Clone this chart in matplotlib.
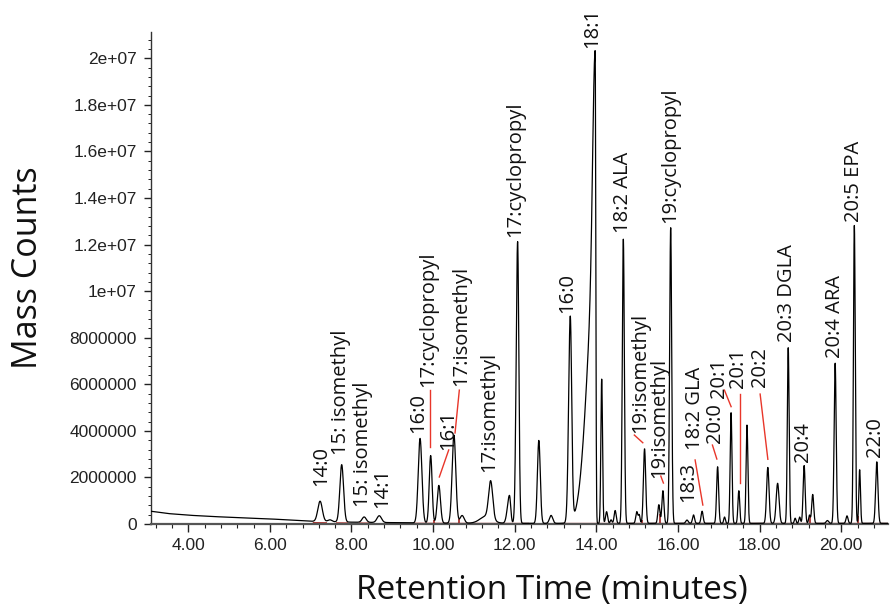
import numpy as np
import matplotlib
matplotlib.use("Agg")
import matplotlib.pyplot as plt
from matplotlib.ticker import MultipleLocator, FixedLocator, FixedFormatter

# ---------------- data ----------------
# baseline drift (time, counts)
base_t = [3.08, 3.5, 4.0, 4.5, 5.0, 5.5, 6.0, 6.5, 7.0, 8.0, 9.0, 10.0, 12.0, 21.15]
base_v = [0.55e6, 0.45e6, 0.38e6, 0.33e6, 0.29e6, 0.25e6, 0.22e6, 0.17e6, 0.12e6,
          0.08e6, 0.06e6, 0.04e6, 0.03e6, 0.03e6]

# peaks: retention time, height above baseline, left / right width (min)
peak_t = [7.23, 7.47, 7.76, 8.31, 8.68, 9.68, 9.94, 10.14, 10.51, 10.71, 11.30, 11.41,
          11.87, 12.07, 12.59, 12.89, 13.36, 13.97, 13.97, 14.13, 14.25, 14.36, 14.46,
          14.66, 14.99, 15.05, 15.18, 15.53, 15.63, 15.82, 16.22, 16.38, 16.59, 16.97,
          17.14, 17.30, 17.49, 17.69, 18.20, 18.44, 18.70, 18.87, 18.98, 19.09, 19.22,
          19.30, 19.66, 19.85, 20.14, 20.32, 20.45, 20.87]
peak_h = [0.87e6, 0.08e6, 2.46e6, 0.23e6, 0.29e6, 3.63e6, 2.90e6, 1.62e6, 3.78e6, 0.33e6,
          0.30e6, 1.60e6, 1.20e6, 12.1e6, 3.56e6, 0.34e6, 8.80e6, 10.5e6, 9.8e6, 6.20e6,
          0.50e6, 0.15e6, 0.55e6, 12.2e6, 0.50e6, 0.35e6, 3.20e6, 0.80e6, 1.40e6, 12.7e6,
          0.14e6, 0.36e6, 0.52e6, 2.43e6, 0.27e6, 4.75e6, 1.40e6, 4.22e6, 2.40e6, 1.72e6,
          7.55e6, 0.22e6, 0.27e6, 2.48e6, 0.35e6, 1.24e6, 0.12e6, 6.88e6, 0.32e6, 12.8e6,
          2.30e6, 2.64e6]
peak_sl = [0.055, 0.05, 0.045, 0.05, 0.055, 0.045, 0.035, 0.04, 0.045, 0.05, 0.15, 0.05,
           0.05, 0.035, 0.035, 0.04, 0.04, 0.20, 0.06, 0.02, 0.025, 0.02, 0.025, 0.025,
           0.025, 0.02, 0.028, 0.025, 0.025, 0.025, 0.03, 0.025, 0.025, 0.025, 0.02, 0.022,
           0.022, 0.022, 0.03, 0.035, 0.022, 0.02, 0.02, 0.025, 0.02, 0.025, 0.03, 0.025,
           0.025, 0.022, 0.02, 0.028]
peak_sr = [0.055, 0.05, 0.045, 0.05, 0.055, 0.045, 0.035, 0.04, 0.045, 0.05, 0.15, 0.05,
           0.03, 0.03, 0.035, 0.04, 0.035, 0.015, 0.015, 0.02, 0.025, 0.02, 0.025, 0.025,
           0.025, 0.02, 0.028, 0.025, 0.025, 0.025, 0.03, 0.025, 0.025, 0.025, 0.02, 0.022,
           0.022, 0.022, 0.03, 0.035, 0.022, 0.02, 0.02, 0.025, 0.02, 0.025, 0.03, 0.025,
           0.025, 0.022, 0.02, 0.028]

# peak labels: text, x (min), y of label foot (counts)
label_text = ["14:0", "15: isomethyl", "15: isomethyl", "14:1", "16:0", "17:cyclopropyl",
              "16:1", "17:isomethyl", "17:isomethyl", "17:cyclopropyl", "16:0", "18:1",
              "18:2 ALA", "19:cyclopropyl", "19:isomethyl", "19:isomethyl", "18:3",
              "18:2 GLA", "20:0", "20:1", "20:1", "20:2", "20:3 DGLA", "20:4",
              "20:4 ARA", "20:5 EPA", "22:0"]
label_x = [7.260, 7.750, 8.270, 8.760, 9.640, 9.880, 10.380, 10.684, 11.385, 12.007,
           13.275, 13.887, 14.662, 15.806, 15.071, 15.537, 16.248, 16.419, 16.909, 17.007,
           17.461, 18.012, 18.674, 19.066, 19.850, 20.300, 20.831]
label_y = [1.62e6, 2.96e6, 0.74e6, 0.67e6, 3.89e6, 5.89e6, 3.18e6, 5.93e6, 2.25e6, 12.32e6,
           9.06e6, 20.43e6, 12.49e6, 12.92e6, 3.91e6, 1.97e6, 0.94e6, 3.18e6, 3.48e6, 5.41e6,
           5.84e6, 5.88e6, 7.81e6, 2.66e6, 7.12e6, 12.96e6, 2.88e6]

# red leader lines (x0, y0, x1, y1)
leader_x0 = [9.924, 10.382, 10.642, 14.930, 15.578, 16.419, 16.843, 17.137, 17.522, 18.012]
leader_y0 = [5.75e6, 3.18e6, 5.75e6, 3.82e6, 2.06e6, 2.75e6, 3.39e6, 5.75e6, 5.58e6, 5.58e6]
leader_x1 = [9.924, 10.152, 10.537, 15.137, 15.642, 16.608, 16.951, 17.301, 17.522, 18.201]
leader_y1 = [3.30e6, 2.02e6, 3.91e6, 3.49e6, 1.76e6, 0.815e6, 2.79e6, 5.04e6, 1.75e6, 2.78e6]

# integration baseline segments and drop lines
intbase_start = [7.05, 7.62, 8.18, 9.50, 12.45, 13.15]
intbase_end = [7.40, 7.92, 8.45, 12.35, 12.75, 21.15]
drop_t = [10.03, 10.64, 14.05, 14.32, 14.54, 15.11, 15.56, 15.71, 19.24, 20.41]

# axis ticks
xtick_vals = [4, 6, 8, 10, 12, 14, 16, 18, 20]
xtick_labels = ["4.00", "6.00", "8.00", "10.00", "12.00", "14.00", "16.00", "18.00", "20.00"]
ytick_vals = [0, 2e6, 4e6, 6e6, 8e6, 1e7, 1.2e7, 1.4e7, 1.6e7, 1.8e7, 2e7]
ytick_labels = ["0", "2000000", "4000000", "6000000", "8000000", "1e+07", "1.2e+07",
                "1.4e+07", "1.6e+07", "1.8e+07", "2e+07"]

# ---------------- build trace ----------------
t = np.linspace(3.08, 21.15, 8000)
trace = np.interp(t, base_t, base_v)
for pt, ph, sl, sr in zip(peak_t, peak_h, peak_sl, peak_sr):
    s = np.where(t < pt, sl, sr)
    trace = trace + ph * np.exp(-0.5 * ((t - pt) / s) ** 2)

# ---------------- figure ----------------
fig = plt.figure(figsize=(8.9, 6.07), dpi=100)
ax = fig.add_axes([0.1693, 0.1367, 0.8287, 0.8103])

red_dark = "#a8302c"
red_light = "#e8362a"

for a, b in zip(intbase_start, intbase_end):
    seg = (t >= a) & (t <= b)
    ax.plot(t[seg], np.interp(t[seg], base_t, base_v) * 0.4, color=red_dark, lw=1.3,
            solid_capstyle="butt", zorder=2)

for dt in drop_t:
    ax.vlines(dt, 0.02e6, np.interp(dt, t, trace), color=red_dark, lw=1.3, zorder=2)

ax.plot(t, trace, color="black", lw=0.9, zorder=3)

for x0, y0, x1, y1 in zip(leader_x0, leader_y0, leader_x1, leader_y1):
    ax.plot([x0, x1], [y0, y1], color=red_light, lw=1.0, zorder=4)

for txt, lx, ly in zip(label_text, label_x, label_y):
    ax.text(lx, ly, txt, rotation=90, ha="center", va="bottom",
            fontsize=14.5, family="Open Sans", color="#111111", zorder=5)

ax.set_xlim(3.08, 21.15)
ax.set_ylim(0, 2.112e7)

for sp in ["top", "right"]:
    ax.spines[sp].set_visible(False)
ax.spines["left"].set_color("#333333")
ax.spines["bottom"].set_color("#555555")
ax.spines["left"].set_linewidth(1.0)
ax.spines["bottom"].set_linewidth(1.6)

ax.xaxis.set_major_locator(FixedLocator(xtick_vals))
ax.xaxis.set_major_formatter(FixedFormatter(xtick_labels))
ax.xaxis.set_minor_locator(MultipleLocator(0.4))
ax.yaxis.set_major_locator(FixedLocator(ytick_vals))
ax.yaxis.set_major_formatter(FixedFormatter(ytick_labels))
ax.yaxis.set_minor_locator(MultipleLocator(4e5))

ax.tick_params(axis="x", which="major", length=6, width=1.0, pad=4, colors="#222222")
ax.tick_params(axis="x", which="minor", length=3, width=0.8, colors="#222222")
ax.tick_params(axis="y", which="major", length=5, width=1.0, pad=5, colors="#222222")
ax.tick_params(axis="y", which="minor", length=2.5, width=0.7, colors="#222222")
for lab in ax.get_xticklabels() + ax.get_yticklabels():
    lab.set_family("Liberation Sans")
    lab.set_fontsize(12.5)
    lab.set_color("#222222")

ax.set_xlabel("Retention Time (minutes)", family="Open Sans", fontsize=24,
              color="#111111", va="baseline")
ax.xaxis.set_label_coords(0.544, -0.1515)
ax.set_ylabel("Mass Counts", family="Open Sans", fontsize=24.5, color="#111111")
ax.yaxis.set_label_coords(-0.1433, 0.5214)

fig.savefig("out.png", dpi=100)
